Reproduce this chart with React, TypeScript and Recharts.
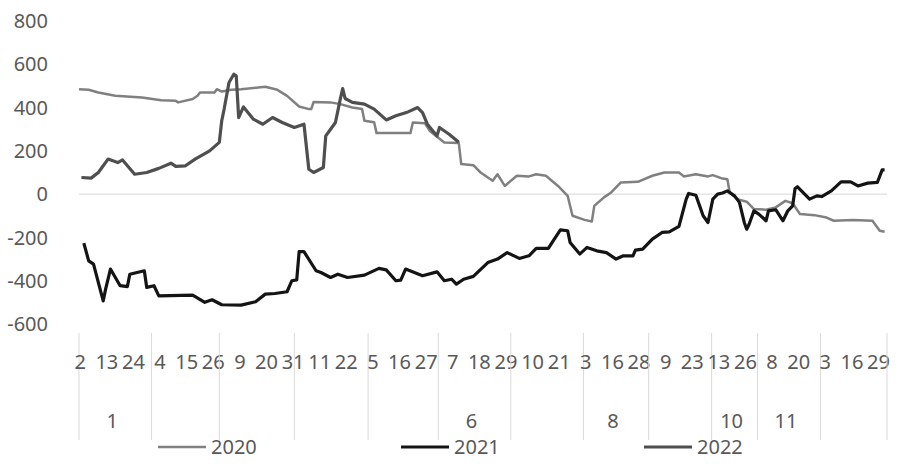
import { LineChart, Line, XAxis, YAxis, ReferenceLine, Legend } from "recharts";

// x axis: one category per trading day, a label every 11 categories
const categoryCount = 334;
const dayStep = 11;
const dayLabels = [
  "2", "13", "24", "4", "15", "26", "9", "20", "31", "11", "22", "5", "16", "27", "7", "18",
  "29", "10", "21", "3", "16", "28", "9", "23", "13", "26", "8", "20", "3", "16", "29",
];
const monthEdges = [0, 30, 58, 89, 119.5, 148.5, 178.5, 208.5, 235.5, 261.5, 280.5, 306.5, 334];
const monthLabels = ["1", "", "", "", "", "6", "", "8", "", "10", "11", ""];
const yTicks = [-600, -400, -200, 0, 200, 400, 600, 800];

// 2020
const days2020 = [
  0, 4, 8, 15, 26, 34, 40, 41, 47, 49, 50, 56, 57, 59, 63, 67, 77, 82, 86, 91, 95, 96, 97, 104,
  108, 113, 117, 118, 122, 123, 137, 138, 143, 145, 151, 157, 158, 163, 166, 171, 173, 176, 181,
  186, 189, 193, 198, 202, 204, 209, 212, 213, 217, 220, 224, 231, 237, 242, 248, 250, 255, 260,
  262, 266, 268, 269, 272, 276, 279, 284, 288, 292, 295, 298, 304, 309, 312, 320, 328, 331, 333,
];
const values2020 = [
  485, 482, 470, 455, 447, 434, 431, 424, 440, 455, 470, 470, 485, 474, 482, 485, 496, 482, 454,
  405, 393, 393, 426, 424, 416, 400, 393, 339, 332, 282, 282, 331, 327, 292, 239, 236, 139, 134,
  100, 62, 92, 38, 85, 82, 92, 85, 38, -8, -100, -119, -126, -54, -15, 8, 54, 57, 85, 100, 100,
  82, 92, 82, 88, 72, 69, 8, -23, -35, -69, -72, -61, -31, -42, -92, -97, -108, -123, -119, -123,
  -169, -174,
];

// 2021
const days2021 = [
  2, 4, 6, 10, 11, 13, 17, 20, 21, 27, 28, 31, 33, 47, 52, 55, 59, 67, 73, 77, 81, 86, 88, 90, 91,
  93, 98, 100, 104, 107, 111, 118, 124, 127, 131, 133, 135, 142, 148, 151, 154, 156, 159, 163,
  169, 173, 177, 182, 186, 189, 194, 196, 199, 202, 203, 207, 210, 214, 218, 222, 225, 229, 230,
  233, 237, 241, 244, 248, 251, 252, 255, 258, 260, 262, 264, 266, 268, 271, 273, 275, 276, 277,
  279, 281, 284, 285, 288, 291, 293, 295, 296, 297, 302, 305, 307, 311, 315, 319, 322, 326, 330,
  332, 333,
];
const values2021 = [
  -226, -308, -323, -493, -439, -346, -423, -427, -370, -354, -431, -423, -470, -467, -500, -488,
  -511, -513, -497, -462, -459, -451, -400, -396, -266, -266, -354, -362, -385, -370, -385, -374,
  -343, -350, -400, -397, -346, -377, -359, -400, -393, -416, -393, -380, -316, -300, -270, -297,
  -285, -251, -251, -216, -165, -169, -223, -277, -246, -262, -270, -300, -285, -285, -259, -254,
  -208, -177, -174, -149, -23, 3, -5, -100, -131, -23, 0, 5, 15, -8, -38, -131, -162, -139, -77,
  -92, -123, -77, -72, -123, -77, -54, 26, 34, -23, -8, -11, 15, 57, 57, 38, 51, 54, 112, 112,
];

// 2022
const days2022 = [
  1, 5, 8, 12, 16, 18, 23, 28, 33, 38, 40, 44, 48, 54, 58, 59, 60, 62, 64, 65, 66, 68, 72, 76, 80,
  84, 89, 93, 95, 97, 101, 102, 104, 106, 108, 109, 110, 113, 118, 122, 127, 131, 136, 140, 142,
  144, 148, 149, 153, 157,
];
const values2022 = [
  77, 74, 100, 162, 146, 158, 92, 100, 119, 143, 128, 131, 162, 200, 239, 339, 393, 516, 554, 547,
  354, 403, 347, 323, 354, 331, 308, 323, 115, 100, 123, 269, 300, 331, 439, 488, 442, 424, 416,
  393, 343, 362, 380, 400, 377, 323, 269, 308, 277, 240,
];

const series = [
  { name: "2020", days: days2020, values: values2020, color: "#808080", width: 2.5 },
  { name: "2021", days: days2021, values: values2021, color: "#141414", width: 3.2 },
  { name: "2022", days: days2022, values: values2022, color: "#4f4f4f", width: 3.2 },
];

const FONT = "'Noto Sans', 'DejaVu Sans', sans-serif";
const TEXT = "#595959";

type TickInfo = { kind: "day" | "edge" | "month"; label: string };
const tickInfo = new Map<number, TickInfo>();
dayLabels.forEach((d, k) => tickInfo.set(k * dayStep + 0.5, { kind: "day", label: d }));
monthEdges.forEach((e) => tickInfo.set(e, { kind: "edge", label: "" }));
monthLabels.forEach((m, k) =>
  tickInfo.set((monthEdges[k] + monthEdges[k + 1]) / 2 + 0.01, { kind: "month", label: m })
);
const xTicks = Array.from(tickInfo.keys()).sort((a, b) => a - b);

function XTick(props: any) {
  const { x, y, payload } = props;
  const info = tickInfo.get(payload.value);
  if (!info) return <g />;
  if (info.kind === "edge") {
    return <line x1={x} x2={x} y1={y + 1} y2={y + 108} stroke="#d9d9d9" strokeWidth={1} />;
  }
  const cy = info.kind === "day" ? y + 30 : y + 89;
  const dx = info.kind === "month" ? -3 : 0;
  return (
    <text x={x + dx} y={cy} dy="0.35em" textAnchor="middle" fontSize={20} fill={TEXT} fontFamily={FONT}>
      {info.label}
    </text>
  );
}

function LegendContent() {
  return (
    <div
      style={{
        display: "flex",
        height: 24,
        paddingLeft: 158,
        fontFamily: FONT,
        fontSize: 20,
        color: TEXT,
        lineHeight: "24px",
      }}
    >
      {series.map((s) => (
        <div key={s.name} style={{ width: 265, display: "flex", alignItems: "center" }}>
          <svg width={48} height={24}>
            <line x1={0} x2={48} y1={12} y2={12} stroke={s.color} strokeWidth={s.width} />
          </svg>
          <span style={{ marginLeft: 5 }}>{s.name}</span>
        </div>
      ))}
    </div>
  );
}

export default function App() {
  return (
    <div style={{ position: "absolute", left: 0, top: 0, background: "#fff" }}>
      <LineChart width={900} height={467} margin={{ top: 21, right: 13, bottom: 8, left: 0 }}>
        <XAxis
          type="number"
          dataKey="x"
          domain={[0, categoryCount]}
          ticks={xTicks}
          interval={0}
          tick={<XTick />}
          axisLine={false}
          tickLine={false}
          height={111}
        />
        <YAxis
          type="number"
          domain={[-600, 800]}
          ticks={yTicks}
          interval={0}
          axisLine={false}
          tickLine={false}
          tickMargin={25}
          width={79}
          tick={{ fontSize: 20, fill: TEXT, fontFamily: FONT }}
        />
        <ReferenceLine y={0} stroke="#d9d9d9" strokeWidth={1} />
        {series.map((s) => (
          <Line
            key={s.name}
            name={s.name}
            data={s.days.map((d, i) => ({ x: d, v: s.values[i] }))}
            dataKey="v"
            type="linear"
            stroke={s.color}
            strokeWidth={s.width}
            strokeLinejoin="round"
            dot={false}
            activeDot={false}
            isAnimationActive={false}
          />
        ))}
        <Legend verticalAlign="bottom" height={24} content={<LegendContent />} />
      </LineChart>
    </div>
  );
}
